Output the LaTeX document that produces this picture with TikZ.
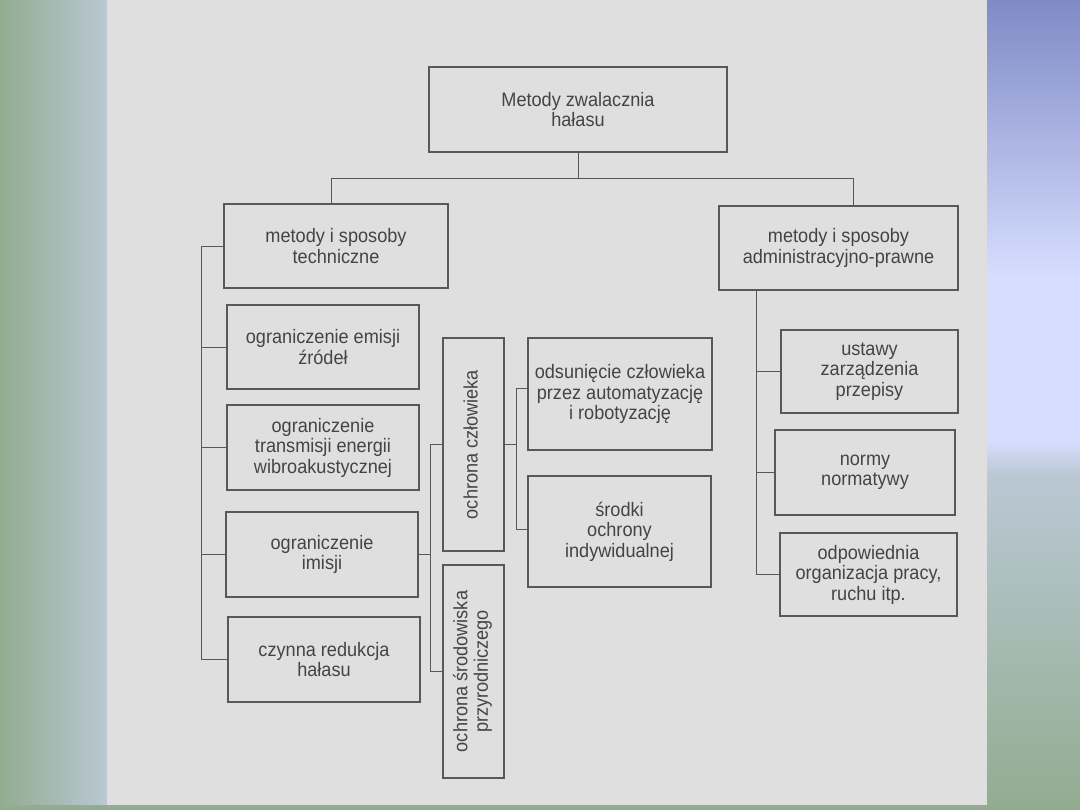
\documentclass[tikz,border=0pt]{standalone}
\usepackage{fontspec}
\usepackage{graphicx}
\setmainfont{Liberation Sans}[FakeStretch=0.93]
\definecolor{pagec}{RGB}{223,223,223}
\definecolor{linec}{RGB}{88,88,92}
\definecolor{textc}{RGB}{68,68,70}
\definecolor{greenc}{RGB}{146,172,144}
\definecolor{lbluec}{RGB}{186,200,212}
\definecolor{purpc}{RGB}{128,138,198}
\definecolor{palec}{RGB}{214,222,255}
\tikzset{
  box/.style={draw=linec, line width=1.1pt, text=textc, align=center, inner sep=0pt,
    font=\fontsize{19.5}{20.5}\selectfont},
  conn/.style={draw=linec, line width=0.9pt}
}
\newcommand{\vtext}[1]{\rotatebox{90}{\begin{tabular}{@{}c@{}}#1\end{tabular}}}
\begin{document}
\begin{tikzpicture}[x=1pt,y=-1pt]
% background
\useasboundingbox (0,0) rectangle (1080,810);
\shade[left color=greenc, right color=lbluec] (0,0) rectangle (107.5,810);
\shade[top color=purpc, bottom color=palec] (987,0) rectangle (1080,277);
\fill[palec] (987,276.5) rectangle (1080,440.5);
\shade[top color=palec, bottom color=lbluec] (987,440) rectangle (1080,475);
\shade[top color=lbluec, bottom color=greenc] (987,474.5) rectangle (1080,810);
\fill[greenc] (0,805) rectangle (1080,810);
\fill[pagec] (107,0) rectangle (987,805);

% boxes
\node[box, minimum width=298, minimum height=85] (top) at (578,109.5) {Metody zwalacznia\\hałasu};
\node[box, minimum width=224, minimum height=84] (tech) at (336,246) {metody i sposoby\\techniczne};
\node[box, minimum width=239, minimum height=84] (admin) at (838.5,248) {metody i sposoby\\administracyjno-prawne};
\node[box, minimum width=192, minimum height=84] (e1) at (323,347) {ograniczenie emisji\\źródeł};
\node[box, minimum width=192, minimum height=85] (e2) at (323,447.5) {ograniczenie\\transmisji energii\\wibroakustycznej};
\node[box, minimum width=192, minimum height=85] (e3) at (322,554.5) {ograniczenie\\imisji};
\node[box, minimum width=192, minimum height=85] (e4) at (324,659.5) {czynna redukcja\\hałasu};
\node[box, minimum width=61, minimum height=213] (och) at (473.5,444.5) {\vtext{ochrona człowieka}};
\node[box, minimum width=61, minimum height=213] (srod) at (473.5,671.5) {\vtext{ochrona środowiska\\przyrodniczego}};
\node[box, minimum width=184, minimum height=112] (ods) at (620,394) {odsunięcie człowieka\\przez automatyzację\\i robotyzację};
\node[box, minimum width=183, minimum height=111] (sro) at (619.5,531.5) {środki\\ochrony\\indywidualnej};
\node[box, minimum width=177, minimum height=83] (ust) at (869.5,371.5) {ustawy\\zarządzenia\\przepisy};
\node[box, minimum width=180, minimum height=85] (nor) at (865,472.5) {normy\\normatywy};
\node[box, minimum width=177, minimum height=83] (odp) at (868.5,574.5) {odpowiednia\\organizacja pracy,\\ruchu itp.};

% connector coordinates
\coordinate (hl) at (331,178);
\coordinate (hr) at (853,178);
\coordinate (lb) at (201,0);
\coordinate (mb) at (430,0);
\coordinate (r1) at (516,388);
\coordinate (r2) at (516,529);
\coordinate (ab) at (756,0);

% top level
\draw[conn] (top.south) -- (top.south |- hl);
\draw[conn] (hl |- tech.north) -- (hl) -- (hr) -- (hr |- admin.north);
% technical branch
\draw[conn] (tech.west) -- (tech.west -| lb) -- (e4.west -| lb) -- (e4.west);
\draw[conn] (e1.west) -- (e1.west -| lb);
\draw[conn] (e2.west) -- (e2.west -| lb);
\draw[conn] (e3.west) -- (e3.west -| lb);
% imisja branch
\draw[conn] (e3.east) -- (e3.east -| mb);
\draw[conn] (och.west) -- (och.west -| mb) -- (srod.west -| mb) -- (srod.west);
% ochrona czlowieka branch
\draw[conn] (och.east) -- (och.east -| r1);
\draw[conn] (r1 -| ods.west) -- (r1) -- (r2) -- (r2 -| sro.west);
% administrative branch
\draw[conn] (admin.south -| ab) -- (odp.west -| ab) -- (odp.west);
\draw[conn] (ust.west) -- (ust.west -| ab);
\draw[conn] (nor.west) -- (nor.west -| ab);
\end{tikzpicture}
\end{document}
